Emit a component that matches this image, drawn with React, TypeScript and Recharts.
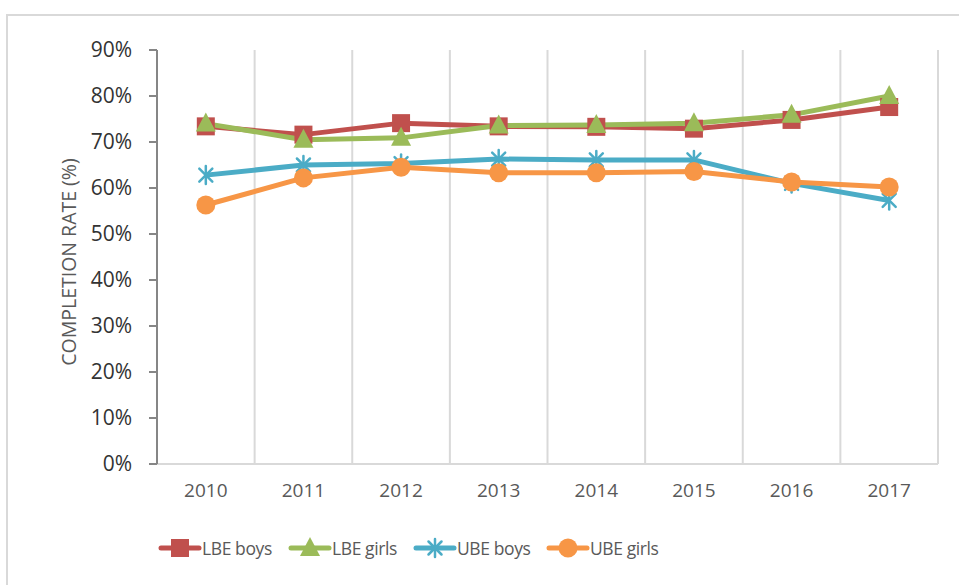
import { LineChart, Line, XAxis, YAxis, CartesianGrid } from "recharts";

const YEARS = ["2010", "2011", "2012", "2013", "2014", "2015", "2016", "2017"];
const LBE_BOYS = [73.4, 71.6, 74.1, 73.4, 73.3, 72.9, 74.8, 77.6];
const LBE_GIRLS = [74.0, 70.5, 70.9, 73.6, 73.7, 74.1, 75.9, 80.0];
const UBE_BOYS = [62.8, 65.0, 65.3, 66.3, 66.1, 66.1, 61.0, 57.3];
const UBE_GIRLS = [56.3, 62.2, 64.5, 63.3, 63.3, 63.6, 61.3, 60.2];
const Y_TICKS = [0, 10, 20, 30, 40, 50, 60, 70, 80, 90];

const FONT = "'Open Sans', 'Liberation Sans', sans-serif";

const SERIES = [
  { key: "lbeBoys", name: "LBE boys", color: "#C0504D", marker: "square" },
  { key: "lbeGirls", name: "LBE girls", color: "#9BBB59", marker: "triangle" },
  { key: "ubeBoys", name: "UBE boys", color: "#4BACC6", marker: "star" },
  { key: "ubeGirls", name: "UBE girls", color: "#F79646", marker: "circle" },
];

// legend column widths, so items start where the original's do
const LEGEND_COLS = [130, 125, 133, 120];

const data = YEARS.map((year, i) => ({
  year,
  lbeBoys: LBE_BOYS[i],
  lbeGirls: LBE_GIRLS[i],
  ubeBoys: UBE_BOYS[i],
  ubeGirls: UBE_GIRLS[i],
}));

function Marker({ cx, cy, type, color }: { cx: number; cy: number; type: string; color: string }) {
  if (cx == null || cy == null) return null;
  if (type === "square") {
    return <rect x={cx - 9} y={cy - 9} width={18} height={18} fill={color} />;
  }
  if (type === "triangle") {
    return (
      <polygon
        points={`${cx},${cy - 11} ${cx + 10},${cy + 8} ${cx - 10},${cy + 8}`}
        fill={color}
      />
    );
  }
  if (type === "star") {
    const r = 9;
    const d = 6.5;
    return (
      <g stroke={color} strokeWidth={2.5} strokeLinecap="round">
        <line x1={cx} y1={cy - r} x2={cx} y2={cy + r} />
        <line x1={cx - d} y1={cy - d} x2={cx + d} y2={cy + d} />
        <line x1={cx - d} y1={cy + d} x2={cx + d} y2={cy - d} />
      </g>
    );
  }
  return <circle cx={cx} cy={cy} r={9.5} fill={color} />;
}

function YLabel({ viewBox }: any) {
  const x = viewBox.x + 68;
  const y = viewBox.y + viewBox.height / 2 + 5;
  return (
    <text
      x={x}
      y={y}
      transform={`rotate(-90, ${x}, ${y})`}
      textAnchor="middle"
      dominantBaseline="central"
      fill="#595959"
      fontSize={19.5}
      fontFamily={FONT}
    >
      COMPLETION RATE (%)
    </text>
  );
}

function LegendIcon({ color, type }: { color: string; type: string }) {
  return (
    <svg width={44} height={22} style={{ display: "block" }}>
      <line x1={3} y1={11} x2={41} y2={11} stroke={color} strokeWidth={5} strokeLinecap="round" />
      <Marker cx={22} cy={11} type={type} color={color} />
    </svg>
  );
}

export default function App() {
  return (
    <div
      style={{
        position: "absolute",
        left: 0,
        top: 0,
        width: 959,
        height: 585,
        background: "#fff",
        overflow: "hidden",
        fontFamily: FONT,
      }}
    >
      <div
        style={{
          position: "absolute",
          left: 6,
          top: 14,
          width: 980,
          height: 600,
          border: "2px solid #d9d9d9",
        }}
      />
      <LineChart
        width={959}
        height={585}
        data={data}
        margin={{ top: 50, right: 21, bottom: 91, left: 0 }}
        style={{ position: "absolute", left: 0, top: 0 }}
      >
        <CartesianGrid
          horizontal={false}
          stroke="#d9d9d9"
          strokeWidth={2}
          verticalCoordinatesGenerator={({ offset }: any) =>
            YEARS.map((_, i) => offset.left + ((i + 1) * offset.width) / YEARS.length)
          }
        />
        <XAxis
          dataKey="year"
          scale="band"
          height={30}
          axisLine={{ stroke: "#d9d9d9", strokeWidth: 2 }}
          tickLine={false}
          tickSize={0}
          tickMargin={20}
          tick={{ fontSize: 19, fill: "#595959", fontFamily: FONT }}
          interval={0}
        />
        <YAxis
          width={157}
          domain={[0, 90]}
          ticks={Y_TICKS}
          interval={0}
          tickFormatter={(v) => `${v}%`}
          axisLine={{ stroke: "#868686", strokeWidth: 2 }}
          tickLine={{ stroke: "#868686", strokeWidth: 2 }}
          tickSize={8}
          tickMargin={17}
          tick={{ fontSize: 21, fill: "#333333", fontFamily: FONT }}
          label={<YLabel />}
        />
        {SERIES.map((s) => (
          <Line
            key={s.key}
            dataKey={s.key}
            name={s.name}
            stroke={s.color}
            strokeWidth={5}
            strokeLinejoin="round"
            isAnimationActive={false}
            dot={(p: any) => (
              <Marker key={`${s.key}-${p.index}`} cx={p.cx} cy={p.cy} type={s.marker} color={s.color} />
            )}
            activeDot={false}
          />
        ))}
      </LineChart>
      <div
        style={{
          position: "absolute",
          left: 158,
          top: 537,
          display: "flex",
          alignItems: "center",
        }}
      >
        {SERIES.map((s, i) => (
          <div key={s.key} style={{ display: "flex", alignItems: "center", width: LEGEND_COLS[i] }}>
            <LegendIcon color={s.color} type={s.marker} />
            <span
              style={{
                fontSize: 17.5,
                color: "#595959",
                lineHeight: "22px",
                letterSpacing: -0.4,
                whiteSpace: "nowrap",
              }}
            >
              {s.name}
            </span>
          </div>
        ))}
      </div>
    </div>
  );
}
